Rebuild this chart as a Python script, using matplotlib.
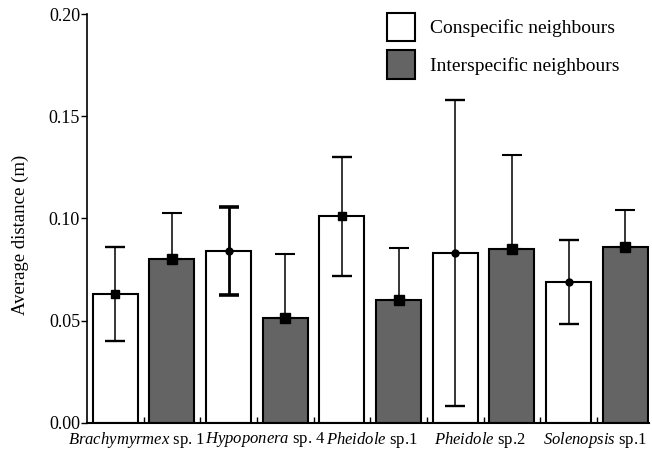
import matplotlib.pyplot as plt
import numpy as np

species = ["Brachymyrmex", "Hypoponera", "Pheidole", "Pheidole", "Solenopsis"]
suffix = ["sp. 1", "sp. 4", "sp.1", "sp.2", "sp.1"]
consp_mean = [0.063, 0.084, 0.101, 0.083, 0.069]
consp_err = [0.023, 0.0215, 0.029, 0.075, 0.0205]
inter_mean = [0.080, 0.051, 0.060, 0.085, 0.086]
inter_err = [0.0225, 0.0317, 0.0255, 0.0458, 0.018]

# marker shape for the conspecific means (the gray ones are all squares)
consp_marker = ["s", "o", "s", "o", "o"]
label_shift = [-0.13, 0.15, 0.02, -0.06, -0.03]

plt.rcParams['font.family'] = ['Liberation Serif', 'DejaVu Serif']
plt.rcParams['mathtext.fontset'] = 'custom'
plt.rcParams['mathtext.rm'] = 'Liberation Serif'
plt.rcParams['mathtext.it'] = 'Liberation Serif:italic'

fig = plt.figure(figsize=(6.52, 4.54), dpi=100)
ax = fig.add_axes([0.1334, 0.069, 0.862, 0.900])

n = len(species)
xw = np.arange(n) * 2
xg = xw + 1
bw = 0.795
gray = "#646464"

ax.bar(xw, consp_mean, bw, color="white", edgecolor="black", linewidth=1.5,
       label="Conspecific neighbours", zorder=2)
ax.bar(xg, inter_mean, bw, color=gray, edgecolor="black", linewidth=1.5,
       label="Interspecific neighbours", zorder=2)

for i in range(n):
    lw = 2.0 if i == 1 else 1.1
    ax.errorbar(xw[i], consp_mean[i], yerr=consp_err[i], fmt="none",
                ecolor="black", elinewidth=lw, capsize=7.5, capthick=lw + 0.6, zorder=3)
    ms = 6 if consp_marker[i] == "s" else 5
    ax.plot(xw[i], consp_mean[i], consp_marker[i], color="black", ms=ms, zorder=4)
    ax.errorbar(xg[i], inter_mean[i], yerr=[[0], [inter_err[i]]], fmt="none",
                ecolor="black", elinewidth=1.1, capsize=7.5, capthick=1.5, zorder=3)
    ax.plot(xg[i], inter_mean[i], "s", color="black", ms=6.5, zorder=4)

ax.set_xlim(-0.5, 9.42)
ax.set_ylim(0, 0.20)
ax.set_yticks(np.arange(0, 0.201, 0.05))
ax.set_yticklabels(["%.2f" % v for v in np.arange(0, 0.201, 0.05)], fontsize=13)
ax.tick_params(axis="y", direction="out", length=4, width=1, pad=1)

ax.set_xticks(np.arange(0.5, 9, 1.0))
ax.set_xticklabels([])
ax.tick_params(axis="x", direction="in", length=4, width=1)
for i in range(n):
    ax.text(xw[i] + 0.5 + label_shift[i], -0.0035,
            r"$\mathit{%s}$ %s" % (species[i], suffix[i]),
            ha="center", va="top", fontsize=12, transform=ax.transData)

ax.set_ylabel("Average distance (m)", fontsize=13.5)
ax.yaxis.set_label_coords(-0.104, 0.459)
ax.spines["top"].set_visible(False)
ax.spines["right"].set_visible(False)
ax.spines["left"].set_linewidth(1.2)
ax.spines["bottom"].set_linewidth(1.5)

ax.legend(loc="upper left", bbox_to_anchor=(387 / 652, 1 - 12.7 / 454),
          bbox_transform=fig.transFigure, frameon=False, borderpad=0,
          fontsize=14, handlelength=1.45, handleheight=1.9,
          labelspacing=0.45, handletextpad=0.77, borderaxespad=0)

fig.savefig("out.png", dpi=100)
